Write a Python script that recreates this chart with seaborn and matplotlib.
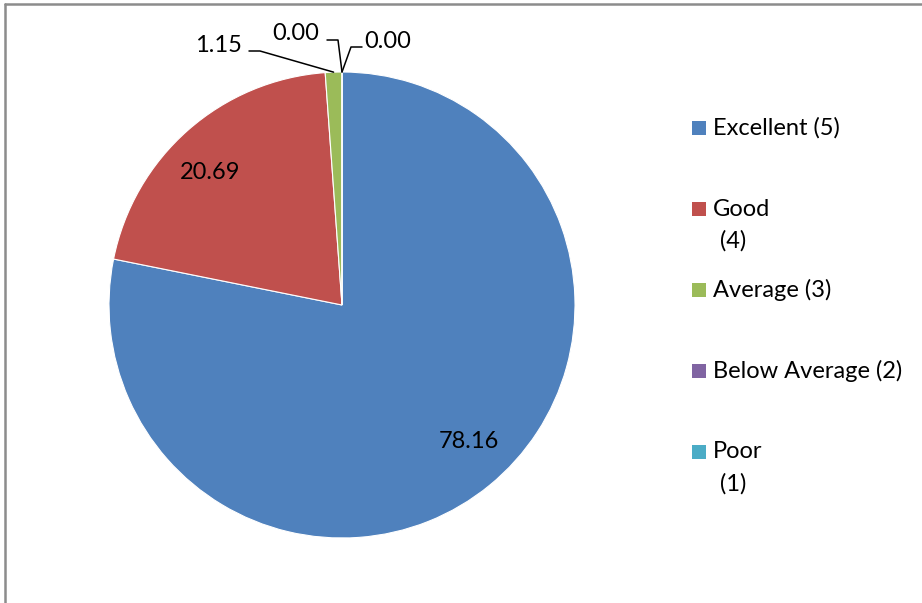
import numpy as np
import matplotlib.pyplot as plt
import seaborn as sns
from matplotlib.patches import Rectangle
from matplotlib.lines import Line2D

categories = ["Excellent (5)", "Good\n(4)", "Average (3)", "Below Average (2)", "Poor\n(1)"]
values = [78.16, 20.69, 1.15, 0.00, 0.00]
value_labels = ["78.16", "20.69", "1.15", "0.00", "0.00"]
colors = ["#4F81BD", "#C0504D", "#9BBB59", "#8064A2", "#4BACC6"]

sns.set_theme(style="white")
plt.rcParams["font.family"] = ["Lato", "DejaVu Sans"]
FS = 17

W, H = 922, 603
fig = plt.figure(figsize=(W / 100, H / 100), dpi=100)

# pie centre (342, 305) px, radius 233 px
cx, cy, r = 342, 305, 233
ax = fig.add_axes([(cx - r) / W, (H - cy - r) / H, 2 * r / W, 2 * r / H])

wedges, _ = ax.pie(values, colors=colors, startangle=90, counterclock=False, radius=1,
                   wedgeprops=dict(edgecolor="white", linewidth=0.8))
ax.set_xlim(-1, 1)
ax.set_ylim(-1, 1)
ax.set_aspect("equal")
ax.axis("off")


def px(x, y):
    return (x - cx) / r, (cy - y) / r


# labels inside big slices
for w, lab, v in zip(wedges, value_labels, values):
    if v < 5:
        continue
    ang = np.deg2rad((w.theta1 + w.theta2) / 2 + 3.5)
    ax.text(0.80 * np.cos(ang), 0.80 * np.sin(ang), lab, ha="center", va="center",
            fontsize=FS, color="black")

# small slices with leader lines: text pos, elbow points, alignment
leaders = [
    (px(242, 46), [px(249, 51), px(260, 51)], "right"),
    (px(296, 34), [px(327, 40), px(338, 40)], "center"),
    (px(364, 42), [px(362, 47), px(351, 47)], "left"),
]
for (w, lab, v), (tpos, elbow, ha) in zip(list(zip(wedges, value_labels, values))[2:], leaders):
    ang = np.deg2rad((w.theta1 + w.theta2) / 2)
    tip = (np.cos(ang), np.sin(ang))
    xs = [elbow[0][0], elbow[1][0], tip[0]]
    ys = [elbow[0][1], elbow[1][1], tip[1]]
    ax.plot(xs, ys, color="black", linewidth=1.1, clip_on=False)
    ax.text(tpos[0], tpos[1], lab, ha=ha, va="center", fontsize=FS, color="black", clip_on=False)

# legend drawn manually to mimic the wrapped entries
for i, (cat, col) in enumerate(zip(categories, colors)):
    y = 128 + 81 * i
    fig.add_artist(Rectangle((692 / W, (H - y - 7) / H), 14 / W, 14 / H,
                             transform=fig.transFigure, facecolor=col, edgecolor="none"))
    for j, line in enumerate(cat.split("\n")):
        fig.text((713 + 7 * j) / W, (H - y - 32 * j) / H, line, ha="left", va="center",
                 fontsize=FS, color="black")

# chart border (only top and left visible)
fig.add_artist(Line2D([5 / W, 1], [1 - 4 / H, 1 - 4 / H], transform=fig.transFigure,
                      color="#8c8c8c", linewidth=1.8))
fig.add_artist(Line2D([5 / W, 5 / W], [0, 1 - 4 / H], transform=fig.transFigure,
                      color="#8c8c8c", linewidth=1.8))

fig.savefig("out.png", dpi=100, facecolor="white")
